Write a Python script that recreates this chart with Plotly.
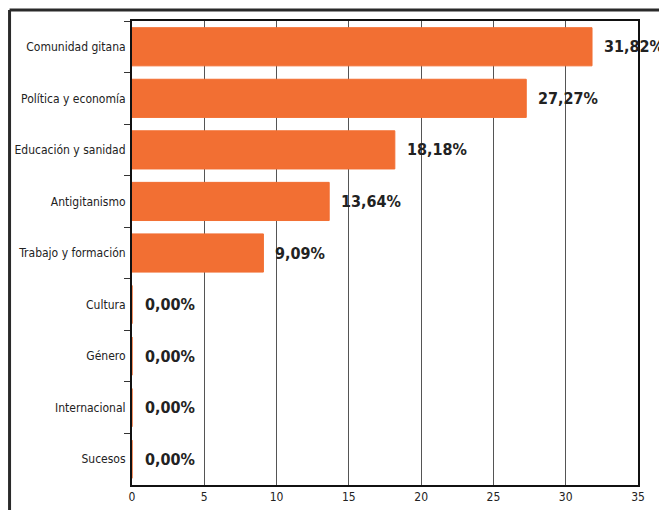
import plotly.graph_objects as go

categories = ["Comunidad gitana", "Política y economía", "Educación y sanidad",
              "Antigitanismo", "Trabajo y formación", "Cultura", "Género",
              "Internacional", "Sucesos"]
values = [31.82, 27.27, 18.18, 13.64, 9.09, 0.0, 0.0, 0.0, 0.0]
labels = ["31,82%", "27,27%", "18,18%", "13,64%", "9,09%", "0,00%", "0,00%", "0,00%", "0,00%"]
x_ticks = [0, 5, 10, 15, 20, 25, 30, 35]

FONT = "DejaVu Sans Condensed, Liberation Sans Narrow, sans-serif"
ORANGE = "#F26F33"

fig = go.Figure()
fig.add_trace(go.Bar(
    y=categories, x=values, orientation="h",
    marker=dict(color=ORANGE, line=dict(color=ORANGE, width=1)),
    width=0.74, hoverinfo="skip",
))

for c, v, t in zip(categories, values, labels):
    fig.add_annotation(x=v, y=c, text="<b>" + t + "</b>", showarrow=False,
                       xanchor="left", xshift=10 if v > 0 else 11,
                       font=dict(family=FONT, size=16, color="#222"))

# outer frame (left and top lines)
fig.add_shape(type="line", xref="paper", yref="paper", x0=-0.242, x1=-0.242,
              y0=1.0237, y1=-0.08, line=dict(color="#2a2a2a", width=3))
fig.add_shape(type="line", xref="paper", yref="paper", x0=-0.242, x1=1.08,
              y0=1.0237, y1=1.0237, line=dict(color="#2a2a2a", width=3))

fig.update_layout(
    width=659, height=502,
    margin=dict(l=124, r=29, t=13, b=25, autoexpand=False),
    paper_bgcolor="white", plot_bgcolor="white",
    showlegend=False,
    font=dict(family=FONT, color="#222"),
    bargap=0.26,
)
fig.update_xaxes(range=[0, 35], tickvals=x_ticks, ticktext=[str(v) for v in x_ticks],
                 showgrid=True, gridcolor="#555", gridwidth=1,
                 showline=True, linecolor="#111", linewidth=2, mirror=True,
                 zeroline=False, ticks="", tickfont=dict(size=12, family=FONT, color="#222"),
                 automargin=False, fixedrange=True)
fig.update_yaxes(categoryorder="array", categoryarray=categories, autorange="reversed",
                 showline=True, linecolor="#111", linewidth=2, mirror=True,
                 ticks="outside", tickson="boundaries", ticklen=6, tickcolor="#333",
                 tickfont=dict(size=12, family=FONT, color="#222"),
                 ticklabelstandoff=2, showgrid=False, automargin=False, fixedrange=True)

fig.write_html("out.html")
